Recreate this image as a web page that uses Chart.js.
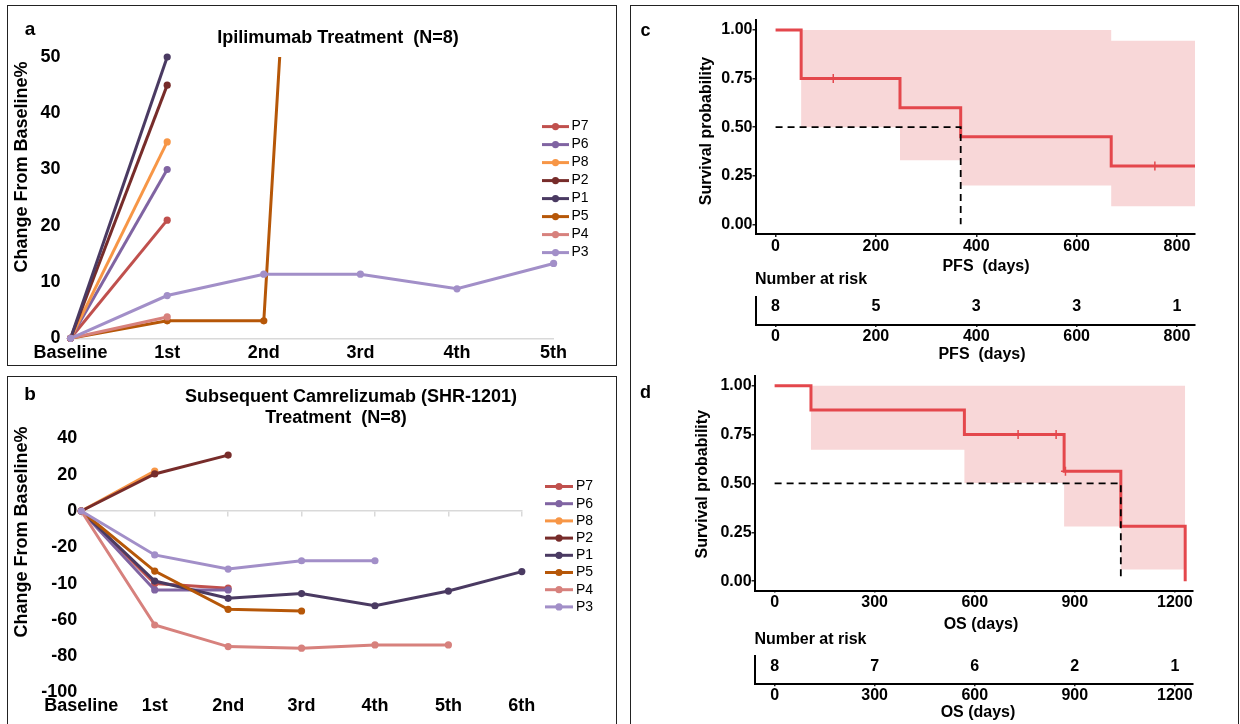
<!DOCTYPE html>
<html><head><meta charset="utf-8">
<script src="https://cdn.jsdelivr.net/npm/chart.js@4.4.1/dist/chart.umd.min.js"></script>
<style>
html,body{margin:0;padding:0;background:#fff;}
#wrap{position:relative;width:1240px;height:724px;overflow:hidden;background:#fff;}
#wrap canvas{position:absolute;left:0;top:0;}
.box{position:absolute;border:1.6px solid #222;box-sizing:border-box;}
</style></head><body>
<div id="wrap">
<div class="box" style="left:7px;top:5px;width:610px;height:361px"></div>
<div class="box" style="left:7px;top:376px;width:610px;height:360px"></div>
<div class="box" style="left:630px;top:5px;width:609px;height:730px"></div>
<canvas id="cA" width="1240" height="724"></canvas>
<canvas id="cB" width="1240" height="724"></canvas>
<canvas id="cC" width="1240" height="724"></canvas>
<canvas id="cCr" width="1240" height="724"></canvas>
<canvas id="cD" width="1240" height="724"></canvas>
<canvas id="cDr" width="1240" height="724"></canvas>
</div>
<script>
// ---------------- DATA ----------------
const patients = ['P7','P6','P8','P2','P1','P5','P4','P3'];

// Panel a: Ipilimumab treatment, % change from baseline
const ipiCats = ['Baseline','1st','2nd','3rd','4th','5th'];
const ipiYTicks = [0,10,20,30,40,50];
const ipiP7 = [0, 21.0];
const ipiP6 = [0, 30.0];
const ipiP8 = [0, 34.9];
const ipiP2 = [0, 45.0];
const ipiP1 = [0, 50.0];
const ipiP5 = [0, 3.1, 3.1, 288];
const ipiP4 = [0, 3.8];
const ipiP3 = [0, 7.6, 11.4, 11.4, 8.8, 13.3];

// Panel b: subsequent Camrelizumab treatment
const camCats = ['Baseline','1st','2nd','3rd','4th','5th','6th'];
const camYTicks = [-100,-80,-60,-40,-20,0,20,40];
const camYTickLabels = ['-100','-80','-60','-10','-20','0','20','40'];
const camP7 = [0, -40, -42.5];
const camP6 = [0, -43.5, -43.5];
const camP8 = [0, 22];
const camP2 = [0, 20.4, 30.8];
const camP1 = [0, -38.6, -48.1, -45.5, -52.2, -44.1, -33.4];
const camP5 = [0, -33.1, -54.2, -55.1];
const camP4 = [0, -62.8, -74.7, -75.6, -73.8, -73.8];
const camP3 = [0, -24.2, -32.0, -27.4, -27.4];

// Panel c: PFS Kaplan-Meier
const pfsTime  = [0, 51, 248, 369, 669, 836];
const pfsSurv  = [1, 0.75, 0.60, 0.45, 0.30, 0.30];
const pfsUpper = [1, 1, 1, 1, 0.945, 0.945];
const pfsLower = [1, 0.50, 0.33, 0.20, 0.093, 0.093];
const pfsCensorTime = [115, 756];
const pfsCensorSurv = [0.75, 0.30];
const pfsMedian = 369;
const pfsXTicks = [0, 200, 400, 600, 800];
const pfsRiskTime = [0, 200, 400, 600, 800];
const pfsRisk = [8, 5, 3, 3, 1];

// Panel d: OS Kaplan-Meier
const osTime  = [0, 109, 569, 868, 1038, 1231];
const osSurv  = [1, 0.875, 0.75, 0.5625, 0.28125, 0];
const osUpper = [1, 1, 1, 1, 1, 1];
const osLower = [1, 0.672, 0.502, 0.28, 0.06, 0.06];
const osCensorTime = [730, 844, 872];
const osCensorSurv = [0.75, 0.75, 0.5625];
const osMedian = 1038;
const osXTicks = [0, 300, 600, 900, 1200];
const osRiskTime = [0, 300, 600, 900, 1200];
const osRisk = [8, 7, 6, 2, 1];

const kmYTicks = [0, 0.25, 0.5, 0.75, 1.0];

// ---------------- STYLE ----------------
const W = 1240, H = 724;
const FF = '"Liberation Sans", Arial, Helvetica, sans-serif';
const COL = {P7:'#C0504D',P6:'#8064A2',P8:'#F79646',P2:'#772C2A',P1:'#4A3A62',P5:'#B65708',P4:'#D7817D',P3:'#A28FC8'};
const RED = '#E4474C', BAND = '#F8D7D8';
Chart.defaults.font.family = FF;
Chart.defaults.color = '#000';

function textPlugin(items) {
  return { id: 'txt', afterDraw(chart) {
    const ctx = chart.ctx;
    items.forEach(t => {
      ctx.save();
      ctx.font = (t.bold === false ? '' : 'bold ') + t.size + 'px ' + FF;
      ctx.fillStyle = '#000';
      ctx.textAlign = t.align || 'center';
      ctx.textBaseline = 'middle';
      ctx.translate(t.x, t.y);
      if (t.rot) ctx.rotate(t.rot);
      ctx.fillText(t.text, 0, 0);
      ctx.restore();
    });
  }};
}
function legendPlugin(x1, x2, tx, y0, dy) {
  return { id: 'lg', afterDraw(chart) {
    const ctx = chart.ctx;
    chart.data.datasets.forEach((ds, i) => {
      const y = y0 + i * dy;
      ctx.save();
      ctx.strokeStyle = ds.borderColor; ctx.lineWidth = 3;
      ctx.beginPath(); ctx.moveTo(x1, y); ctx.lineTo(x2, y); ctx.stroke();
      ctx.fillStyle = ds.borderColor;
      ctx.beginPath(); ctx.arc((x1 + x2) / 2, y, 3.6, 0, Math.PI * 2); ctx.fill();
      ctx.fillStyle = '#000'; ctx.font = '14px ' + FF;
      ctx.textAlign = 'left'; ctx.textBaseline = 'middle';
      ctx.fillText(ds.label, tx, y);
      ctx.restore();
    });
  }};
}
function riskPlugin(times, counts, rowY) {
  return { id: 'risk', afterDraw(chart) {
    const ctx = chart.ctx, xs = chart.scales.x, ys = chart.scales.y;
    ctx.save();
    ctx.font = 'bold 16px ' + FF; ctx.fillStyle = '#000';
    ctx.textAlign = 'center'; ctx.textBaseline = 'middle';
    times.forEach((t, i) => ctx.fillText(String(counts[i]), xs.getPixelForValue(t), ys.getPixelForValue(rowY)));
    ctx.restore();
  }};
}
function build(id, config, area) {
  const pad = {left: area.left, top: area.top, right: W - area.right, bottom: H - area.bottom};
  config.options.layout = {padding: pad};
  config.options.animation = false;
  config.options.responsive = false;
  config.options.devicePixelRatio = 1;
  config.options.events = [];
  config.options.plugins = Object.assign({legend:{display:false}, tooltip:{enabled:false}}, config.options.plugins || {});
  const ch = new Chart(document.getElementById(id), config);
  for (let k = 0; k < 3; k++) {
    const a = ch.chartArea;
    pad.left += area.left - a.left;
    pad.top += area.top - a.top;
    pad.right += a.right - area.right;
    pad.bottom += a.bottom - area.bottom;
    ch.update('none');
  }
  return ch;
}
const setTicks = arr => (s => { s.ticks = arr.map(v => ({value: v})); });

function lineDs(p, data, i, clipTop) {
  return { label: p, data, borderColor: COL[p], backgroundColor: COL[p], borderWidth: 3,
    pointRadius: 3.6, pointBackgroundColor: COL[p], pointBorderWidth: 0, tension: 0,
    order: patients.length - i,
    clip: clipTop ? {left: 10, top: 0, right: 10, bottom: 10} : {left: 10, top: 10, right: 10, bottom: 10} };
}
function catX(labels, pad, border) {
  return { type: 'category', labels, offset: false,
    grid: {display: true, drawOnChartArea: false, drawTicks: false},
    border: {display: border, color: '#D9D9D9', width: 1.5},
    ticks: {color: '#000', font: {size: 18, weight: 'bold'}, padding: pad, maxRotation: 0, minRotation: 0, autoSkip: false} };
}

// ---------------- PANEL A ----------------
const ipiSeries = [ipiP7, ipiP6, ipiP8, ipiP2, ipiP1, ipiP5, ipiP4, ipiP3];
build('cA', {
  type: 'line',
  data: {labels: ipiCats, datasets: patients.map((p, i) => lineDs(p, ipiSeries[i], i, p === 'P5'))},
  options: { scales: {
    x: catX(ipiCats, 4, true),
    y: { min: 0, max: 50, afterBuildTicks: setTicks(ipiYTicks),
      grid: {display: true, drawOnChartArea: false, drawTicks: false}, border: {display: false},
      ticks: {font: {size: 18, weight: 'bold'}, padding: 10, color: '#000'} }
  }},
  plugins: [textPlugin([
    {text: 'a', x: 30, y: 30, size: 19},
    {text: 'Ipilimumab Treatment  (N=8)', x: 338, y: 38, size: 18},
    {text: 'Change From Baseline%', x: 22, y: 167, size: 18, rot: -Math.PI / 2}
  ]), legendPlugin(542, 569, 571.5, 126.6, 18.0)]
}, {left: 70.6, top: 57, right: 553.6, bottom: 338.3});

// ---------------- PANEL B ----------------
const camSeries = [camP7, camP6, camP8, camP2, camP1, camP5, camP4, camP3];
build('cB', {
  type: 'line',
  data: {labels: camCats, datasets: patients.map((p, i) => Object.assign(lineDs(p, camSeries[i], i, false), {clip: false}))},
  options: { scales: {
    x: catX(camCats, 2.5, false),
    x2: { type: 'category', axis: 'x', labels: camCats, offset: false, position: {y: 0},
      grid: {display: true, drawOnChartArea: false, drawTicks: true, tickLength: 5, color: '#D9D9D9', lineWidth: 1.5},
      border: {display: true, color: '#D9D9D9', width: 1.5},
      ticks: {display: false} },
    y: { min: -100, max: 40, afterBuildTicks: setTicks(camYTicks),
      grid: {display: true, drawOnChartArea: false, drawTicks: false}, border: {display: false},
      ticks: {font: {size: 18, weight: 'bold'}, padding: 4, color: '#000',
        callback: v => camYTickLabels[camYTicks.indexOf(v)]} }
  }},
  plugins: [textPlugin([
    {text: 'b', x: 30, y: 395, size: 19},
    {text: 'Subsequent Camrelizumab (SHR-1201)', x: 351, y: 397, size: 18},
    {text: 'Treatment  (N=8)', x: 336, y: 418.5, size: 18},
    {text: 'Change From Baseline%', x: 22, y: 532, size: 18, rot: -Math.PI / 2}
  ]), legendPlugin(545, 573, 576, 486.5, 17.2)]
}, {left: 81.3, top: 438.4, right: 521.8, bottom: 692.5});

// ---------------- KM PANELS ----------------
const pts = (xs, ys) => xs.map((x, i) => ({x, y: ys[i]}));
function kmChart(id, area, o) {
  return build(id, {
    type: 'line',
    data: { datasets: [
      {data: pts(o.t, o.up), borderColor: 'rgba(0,0,0,0)', borderWidth: 0, pointRadius: 0, stepped: 'before', fill: false, order: 5},
      {data: pts(o.t, o.lo), borderColor: 'rgba(0,0,0,0)', borderWidth: 0, pointRadius: 0, stepped: 'before', fill: '-1', backgroundColor: BAND, order: 4},
      {data: pts(o.t, o.s), borderColor: RED, borderWidth: 3, pointRadius: 0, stepped: 'before', fill: false, order: 3},
      {data: [{x: 0, y: 0.5}, {x: o.med, y: 0.5}, {x: o.med, y: 0}], borderColor: '#000', borderWidth: 1.8, borderDash: [7, 5], pointRadius: 0, fill: false, order: 2},
      {data: pts(o.ct, o.cs), showLine: false, pointStyle: 'cross', pointRadius: 4.5, pointBorderColor: RED, pointBackgroundColor: RED, pointBorderWidth: 1.5, order: 1}
    ]},
    options: { scales: {
      x: { type: 'linear', min: o.xMin, max: o.xMax, afterBuildTicks: setTicks(o.xt),
        grid: {display: true, drawOnChartArea: false, drawTicks: true, tickLength: o.tl, color: '#222', lineWidth: 1.5},
        border: {display: true, color: '#000', width: 2},
        ticks: {font: {size: 16, weight: 'bold'}, padding: 0, color: '#000', maxRotation: 0, callback: v => String(v)} },
      y: { type: 'linear', min: -0.05, max: 1.05, afterBuildTicks: setTicks(kmYTicks),
        grid: {display: true, drawOnChartArea: false, drawTicks: true, tickLength: 3, color: '#222', lineWidth: 1.5},
        border: {display: true, color: '#000', width: 2},
        ticks: {font: {size: 16, weight: 'bold'}, padding: 0, color: '#000', callback: v => v.toFixed(2)} }
    }},
    plugins: [textPlugin(o.texts)]
  }, area);
}
function riskChart(id, area, o) {
  return build(id, {
    type: 'line',
    data: {datasets: []},
    options: { scales: {
      x: { type: 'linear', min: o.xMin, max: o.xMax, afterBuildTicks: setTicks(o.xt),
        grid: {display: true, drawOnChartArea: false, drawTicks: true, tickLength: 2, color: '#222', lineWidth: 1.5},
        border: {display: true, color: '#000', width: 2},
        ticks: {font: {size: 16, weight: 'bold'}, padding: 0, color: '#000', maxRotation: 0, callback: v => String(v)} },
      y: { type: 'linear', min: 0, max: 1,
        grid: {display: false}, border: {display: true, color: '#000', width: 2},
        ticks: {display: false} }
    }},
    plugins: [riskPlugin(o.rt, o.rn, 0.64), textPlugin(o.texts)]
  }, area);
}

kmChart('cC', {left: 755.5, top: 20.3, right: 1195, bottom: 234}, {
  t: pfsTime, s: pfsSurv, up: pfsUpper, lo: pfsLower, ct: pfsCensorTime, cs: pfsCensorSurv,
  med: pfsMedian, xMin: -40, xMax: 836, xt: pfsXTicks, tl: 3,
  texts: [
    {text: 'c', x: 645.6, y: 31.5, size: 18},
    {text: 'Survival probability', x: 706.3, y: 131, size: 16, rot: -Math.PI / 2},
    {text: 'PFS  (days)', x: 986, y: 266.7, size: 16},
    {text: 'Number at risk', x: 755, y: 280, size: 16, align: 'left'}
  ]
});
riskChart('cCr', {left: 755.5, top: 297, right: 1195, bottom: 325}, {
  xMin: -40, xMax: 836, xt: pfsXTicks, rt: pfsRiskTime, rn: pfsRisk,
  texts: [{text: 'PFS  (days)', x: 982, y: 355, size: 16}]
});
kmChart('cD', {left: 754.6, top: 375.9, right: 1193.2, bottom: 591}, {
  t: osTime, s: osSurv, up: osUpper, lo: osLower, ct: osCensorTime, cs: osCensorSurv,
  med: osMedian, xMin: -60, xMax: 1255, xt: osXTicks, tl: 1.5,
  texts: [
    {text: 'd', x: 645.6, y: 393, size: 18},
    {text: 'Survival probability', x: 702.4, y: 484.2, size: 16, rot: -Math.PI / 2},
    {text: 'OS (days)', x: 981, y: 625, size: 16},
    {text: 'Number at risk', x: 754.4, y: 639.3, size: 16, align: 'left'}
  ]
});
riskChart('cDr', {left: 754.6, top: 656, right: 1193.2, bottom: 684.3}, {
  xMin: -60, xMax: 1255, xt: osXTicks, rt: osRiskTime, rn: osRisk,
  texts: [{text: 'OS (days)', x: 978, y: 712.3, size: 16}]
});
</script>
</body></html>
